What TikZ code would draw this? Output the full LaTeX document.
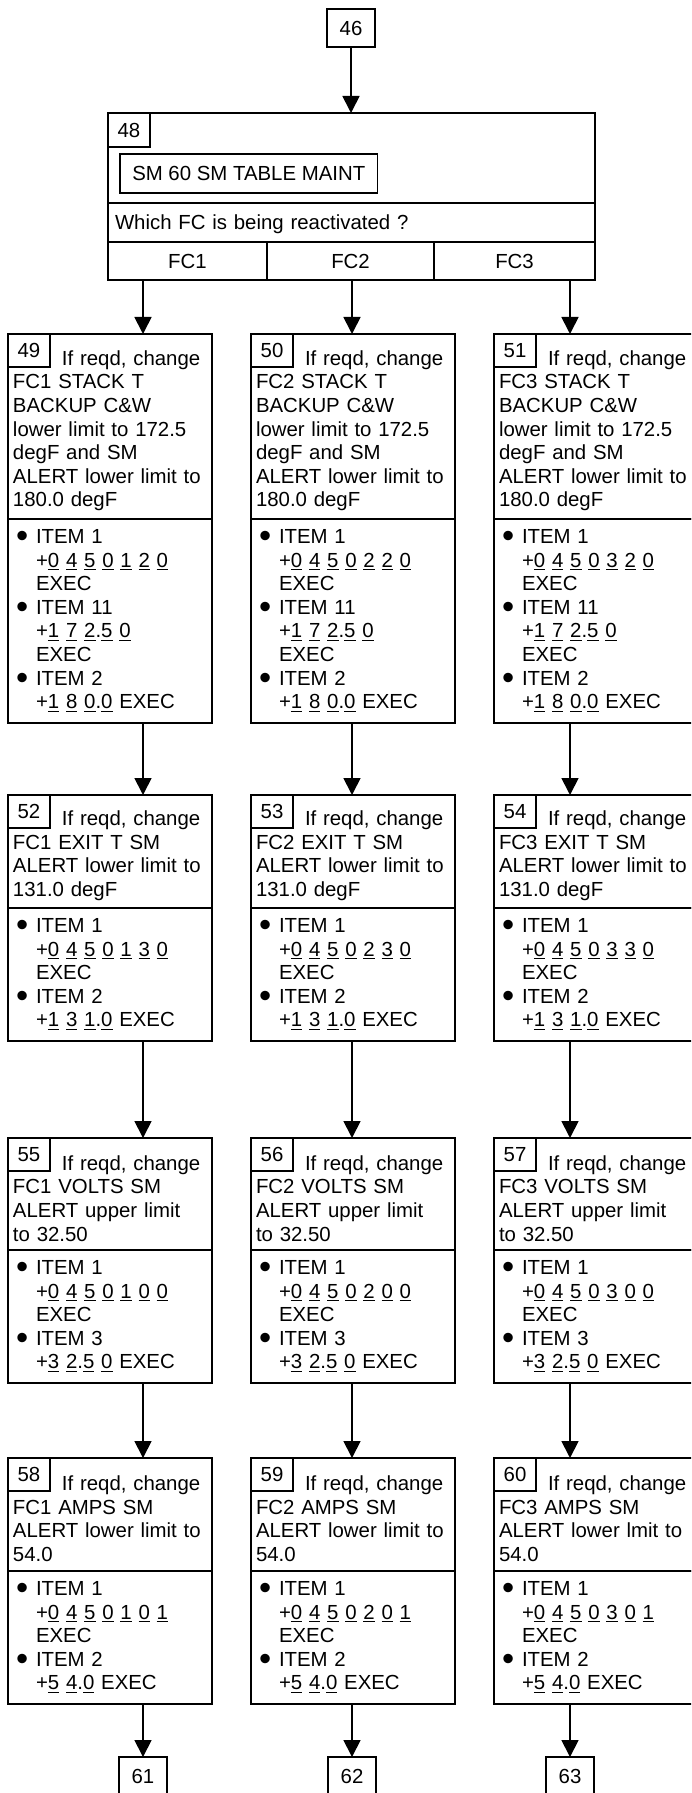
\documentclass[tikz,border=0pt]{standalone}
\usepackage{fontspec}
\setmainfont{Liberation Sans}
\usetikzlibrary{arrows.meta,positioning}
\newcommand\boxfont{\fontsize{11.6pt}{13.44pt}\selectfont}
\newcommand\dg[1]{\underline{#1}}
\newcommand\lead{\rule{0pt}{0.47cm}\hspace*{0.98cm}}
\newcommand\bl{\makebox[0.46cm][l]{\hspace*{0.06cm}\raisebox{-0.19em}{\scalebox{1.7}{\textbullet}}}}
\newcommand\indnt{\hspace*{0.46cm}}

\begin{document}
\begin{tikzpicture}[
  cell/.style={rectangle, draw, line width=1pt, inner sep=0pt, outer sep=0pt, font=\boxfont},
  numbox/.style={cell, minimum width=0.96cm, minimum height=0.76cm},
  tag/.style={cell, anchor=north west, minimum width=0.84cm, minimum height=0.66cm},
  desc/.style={cell, anchor=north west, text width=3.88cm, inner xsep=0.10cm, align=left},
  items/.style={cell, text width=3.88cm, inner xsep=0.10cm, align=left},
  arrow/.style={-{Triangle[length=0.34cm,width=0.34cm]}, line width=1pt}
]
\path[use as bounding box, clip] (0,0) rectangle (13.82,-35.86);
\coordinate (k1) at (2.86,0);
\coordinate (k2) at (7.04,0);
\coordinate (k3) at (11.40,0);

% entry and selection block
\node[numbox] (n46) at (7.02,-0.56) {46};
\node[cell, anchor=north west, minimum width=9.74cm, minimum height=1.80cm] (h48) at (2.16,-2.26) {};
\node[tag, minimum height=0.68cm] (t48) at (h48.north west) {48};
\node[cell, minimum width=5.15cm, minimum height=0.78cm] (sm60) at (4.975,-3.47) {SM 60 SM TABLE MAINT};
\node[cell, below=0pt of h48, text width=9.46cm, inner xsep=0.14cm, align=left,
      minimum height=0.78cm, text height=0.3cm, text depth=0pt] (q48) {Which FC is being reactivated ?};
\node[cell, anchor=north west, minimum width=3.18cm, minimum height=0.76cm] (fc1) at (q48.south west) {FC1};
\node[cell, right=0pt of fc1, minimum width=3.34cm, minimum height=0.76cm] (fc2) {FC2};
\node[cell, right=0pt of fc2, minimum width=3.22cm, minimum height=0.76cm] (fc3) {FC3};

% FC1 column
\node[desc, minimum height=3.70cm] (d49) at (0.16,-6.68)
  {\lead If reqd, change\\FC1 STACK T\\BACKUP C\&W\\lower limit to 172.5\\degF and SM\\ALERT lower limit to\\180.0 degF};
\node[items, below=0pt of d49, minimum height=4.08cm] (i49)
  {\bl ITEM 1\\\indnt +\dg0 \dg4 \dg5 \dg0 \dg1 \dg2 \dg0\\\indnt EXEC\\\bl ITEM 11\\\indnt +\dg1 \dg7 \dg2.\dg5 \dg0\\\indnt EXEC\\\bl ITEM 2\\\indnt +\dg1 \dg8 \dg0.\dg0 EXEC};
\node[tag] (t49) at (d49.north west) {49};
\node[desc, minimum height=2.26cm] (d52) at (0.16,-15.90)
  {\lead If reqd, change\\FC1 EXIT T SM\\ALERT lower limit to\\131.0 degF};
\node[items, below=0pt of d52, minimum height=2.66cm] (i52)
  {\bl ITEM 1\\\indnt +\dg0 \dg4 \dg5 \dg0 \dg1 \dg3 \dg0\\\indnt EXEC\\\bl ITEM 2\\\indnt +\dg1 \dg3 \dg1.\dg0 EXEC};
\node[tag] (t52) at (d52.north west) {52};
\node[desc, minimum height=2.24cm] (d55) at (0.16,-22.76)
  {\lead If reqd, change\\FC1 VOLTS SM\\ALERT upper limit\\to 32.50};
\node[items, below=0pt of d55, minimum height=2.66cm] (i55)
  {\bl ITEM 1\\\indnt +\dg0 \dg4 \dg5 \dg0 \dg1 \dg0 \dg0\\\indnt EXEC\\\bl ITEM 3\\\indnt +\dg3 \dg2.\dg5 \dg0 EXEC};
\node[tag] (t55) at (d55.north west) {55};
\node[desc, minimum height=2.26cm] (d58) at (0.16,-29.16)
  {\lead If reqd, change\\FC1 AMPS SM\\ALERT lower limit to\\54.0};
\node[items, below=0pt of d58, minimum height=2.66cm] (i58)
  {\bl ITEM 1\\\indnt +\dg0 \dg4 \dg5 \dg0 \dg1 \dg0 \dg1\\\indnt EXEC\\\bl ITEM 2\\\indnt +\dg5 \dg4.\dg0 EXEC};
\node[tag] (t58) at (d58.north west) {58};

% FC2 column
\node[desc, minimum height=3.70cm] (d50) at (5.02,-6.68)
  {\lead If reqd, change\\FC2 STACK T\\BACKUP C\&W\\lower limit to 172.5\\degF and SM\\ALERT lower limit to\\180.0 degF};
\node[items, below=0pt of d50, minimum height=4.08cm] (i50)
  {\bl ITEM 1\\\indnt +\dg0 \dg4 \dg5 \dg0 \dg2 \dg2 \dg0\\\indnt EXEC\\\bl ITEM 11\\\indnt +\dg1 \dg7 \dg2.\dg5 \dg0\\\indnt EXEC\\\bl ITEM 2\\\indnt +\dg1 \dg8 \dg0.\dg0 EXEC};
\node[tag] (t50) at (d50.north west) {50};
\node[desc, minimum height=2.26cm] (d53) at (5.02,-15.90)
  {\lead If reqd, change\\FC2 EXIT T SM\\ALERT lower limit to\\131.0 degF};
\node[items, below=0pt of d53, minimum height=2.66cm] (i53)
  {\bl ITEM 1\\\indnt +\dg0 \dg4 \dg5 \dg0 \dg2 \dg3 \dg0\\\indnt EXEC\\\bl ITEM 2\\\indnt +\dg1 \dg3 \dg1.\dg0 EXEC};
\node[tag] (t53) at (d53.north west) {53};
\node[desc, minimum height=2.24cm] (d56) at (5.02,-22.76)
  {\lead If reqd, change\\FC2 VOLTS SM\\ALERT upper limit\\to 32.50};
\node[items, below=0pt of d56, minimum height=2.66cm] (i56)
  {\bl ITEM 1\\\indnt +\dg0 \dg4 \dg5 \dg0 \dg2 \dg0 \dg0\\\indnt EXEC\\\bl ITEM 3\\\indnt +\dg3 \dg2.\dg5 \dg0 EXEC};
\node[tag] (t56) at (d56.north west) {56};
\node[desc, minimum height=2.26cm] (d59) at (5.02,-29.16)
  {\lead If reqd, change\\FC2 AMPS SM\\ALERT lower limit to\\54.0};
\node[items, below=0pt of d59, minimum height=2.66cm] (i59)
  {\bl ITEM 1\\\indnt +\dg0 \dg4 \dg5 \dg0 \dg2 \dg0 \dg1\\\indnt EXEC\\\bl ITEM 2\\\indnt +\dg5 \dg4.\dg0 EXEC};
\node[tag] (t59) at (d59.north west) {59};

% FC3 column
\node[desc, minimum height=3.70cm] (d51) at (9.88,-6.68)
  {\lead If reqd, change\\FC3 STACK T\\BACKUP C\&W\\lower limit to 172.5\\degF and SM\\ALERT lower limit to\\180.0 degF};
\node[items, below=0pt of d51, minimum height=4.08cm] (i51)
  {\bl ITEM 1\\\indnt +\dg0 \dg4 \dg5 \dg0 \dg3 \dg2 \dg0\\\indnt EXEC\\\bl ITEM 11\\\indnt +\dg1 \dg7 \dg2.\dg5 \dg0\\\indnt EXEC\\\bl ITEM 2\\\indnt +\dg1 \dg8 \dg0.\dg0 EXEC};
\node[tag] (t51) at (d51.north west) {51};
\node[desc, minimum height=2.26cm] (d54) at (9.88,-15.90)
  {\lead If reqd, change\\FC3 EXIT T SM\\ALERT lower limit to\\131.0 degF};
\node[items, below=0pt of d54, minimum height=2.66cm] (i54)
  {\bl ITEM 1\\\indnt +\dg0 \dg4 \dg5 \dg0 \dg3 \dg3 \dg0\\\indnt EXEC\\\bl ITEM 2\\\indnt +\dg1 \dg3 \dg1.\dg0 EXEC};
\node[tag] (t54) at (d54.north west) {54};
\node[desc, minimum height=2.24cm] (d57) at (9.88,-22.76)
  {\lead If reqd, change\\FC3 VOLTS SM\\ALERT upper limit\\to 32.50};
\node[items, below=0pt of d57, minimum height=2.66cm] (i57)
  {\bl ITEM 1\\\indnt +\dg0 \dg4 \dg5 \dg0 \dg3 \dg0 \dg0\\\indnt EXEC\\\bl ITEM 3\\\indnt +\dg3 \dg2.\dg5 \dg0 EXEC};
\node[tag] (t57) at (d57.north west) {57};
\node[desc, minimum height=2.26cm] (d60) at (9.88,-29.16)
  {\lead If reqd, change\\FC3 AMPS SM\\ALERT lower lmit to\\54.0};
\node[items, below=0pt of d60, minimum height=2.66cm] (i60)
  {\bl ITEM 1\\\indnt +\dg0 \dg4 \dg5 \dg0 \dg3 \dg0 \dg1\\\indnt EXEC\\\bl ITEM 2\\\indnt +\dg5 \dg4.\dg0 EXEC};
\node[tag] (t60) at (d60.north west) {60};

% exits
\node[numbox] (n61) at (2.86,-35.52) {61};
\node[numbox] (n62) at (7.04,-35.52) {62};
\node[numbox] (n63) at (11.40,-35.52) {63};

\draw[arrow] (n46) -- (n46 |- h48.north);
\draw[arrow] (fc1.south -| k1) -- (d49.north -| k1);
\draw[arrow] (fc2.south -| k2) -- (d50.north -| k2);
\draw[arrow] (fc3.south -| k3) -- (d51.north -| k3);
\draw[arrow] (i49.south -| k1) -- (d52.north -| k1);
\draw[arrow] (i50.south -| k2) -- (d53.north -| k2);
\draw[arrow] (i51.south -| k3) -- (d54.north -| k3);
\draw[arrow] (i52.south -| k1) -- (d55.north -| k1);
\draw[arrow] (i53.south -| k2) -- (d56.north -| k2);
\draw[arrow] (i54.south -| k3) -- (d57.north -| k3);
\draw[arrow] (i55.south -| k1) -- (d58.north -| k1);
\draw[arrow] (i56.south -| k2) -- (d59.north -| k2);
\draw[arrow] (i57.south -| k3) -- (d60.north -| k3);
\draw[arrow] (i58.south -| k1) -- (n61);
\draw[arrow] (i59.south -| k2) -- (n62);
\draw[arrow] (i60.south -| k3) -- (n63);
\end{tikzpicture}
\end{document}
